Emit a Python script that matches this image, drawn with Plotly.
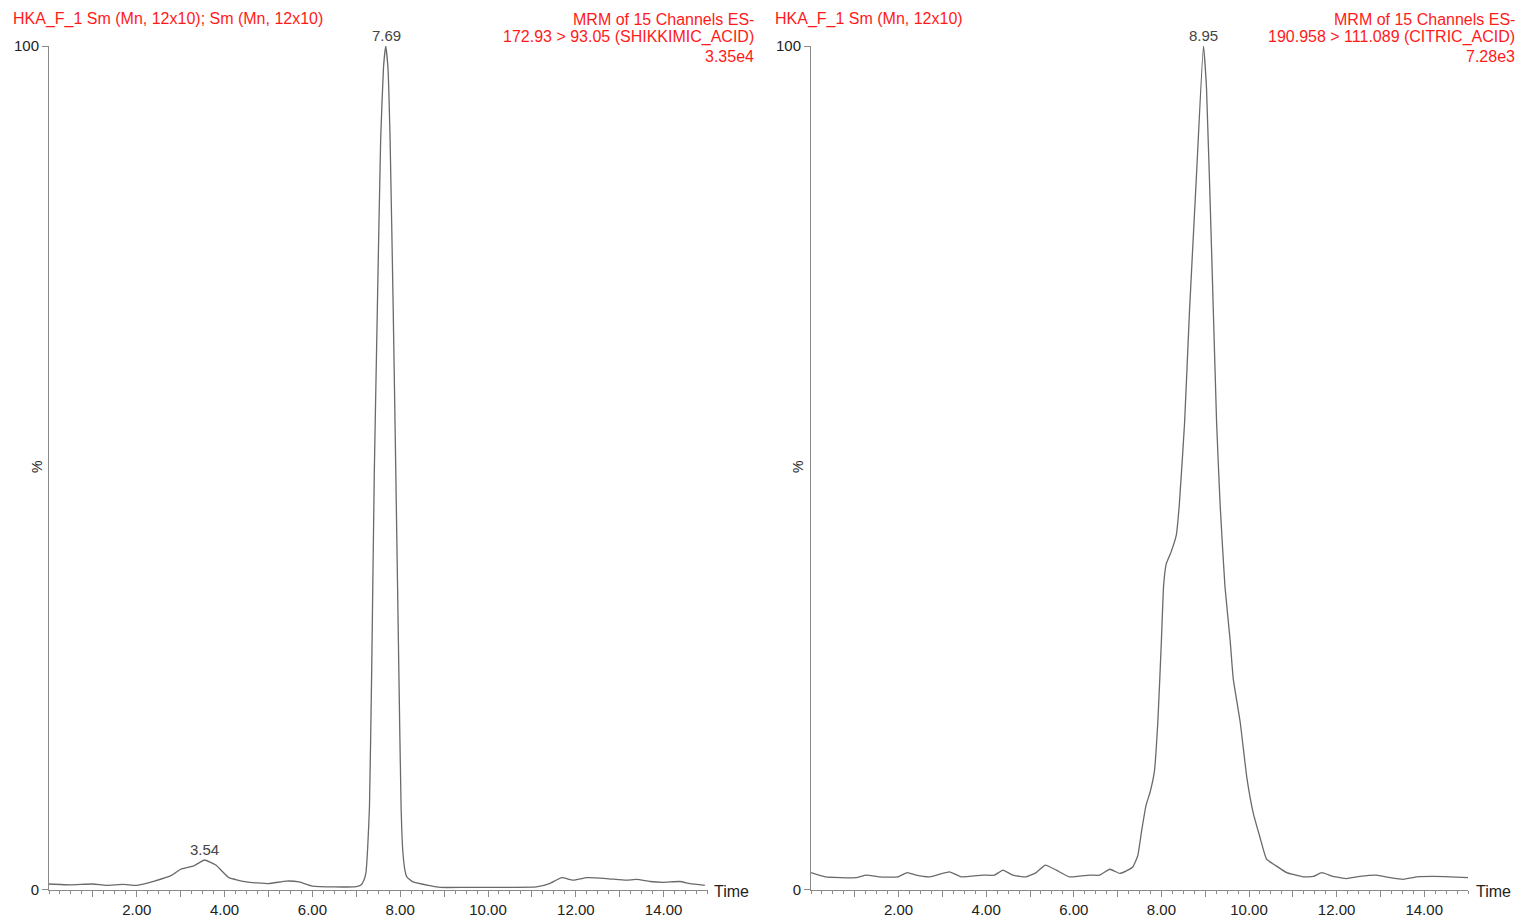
import plotly.graph_objects as go

# ---- data ----
t_shikimic = [0.0, 0.5, 1.0, 1.3, 1.7, 2.0, 2.4, 2.8, 3.0, 3.3, 3.54, 3.8, 4.1, 4.5, 5.0, 5.4, 5.7,
              6.0, 6.5, 7.0, 7.1, 7.18, 7.22, 7.26, 7.30, 7.35, 7.41, 7.48, 7.555, 7.62, 7.67, 7.72,
              7.77, 7.84, 7.90, 7.97, 8.02, 8.06, 8.11, 8.15, 8.29, 8.68, 8.91, 9.5, 10.0, 10.5,
              11.1, 11.4, 11.68, 11.94, 12.25, 12.7, 13.15, 13.39, 13.69, 13.99, 14.37, 14.6, 14.94]
pct_shikimic = [0.65, 0.55, 0.65, 0.5, 0.6, 0.5, 1.0, 1.7, 2.4, 2.8, 3.5, 2.9, 1.4, 0.9, 0.7, 1.0, 0.9,
                0.4, 0.3, 0.35, 0.5, 1.2, 2.0, 5.0, 9.8, 25.7, 49.4, 69.0, 88.9, 97.5, 100.0, 97.5,
                88.9, 69.0, 49.4, 25.7, 9.8, 4.5, 2.2, 1.5, 0.9, 0.45, 0.25, 0.25, 0.25, 0.25,
                0.3, 0.7, 1.4, 1.1, 1.4, 1.3, 1.1, 1.2, 0.95, 0.85, 0.95, 0.7, 0.5]

t_citric = [0.0, 0.33, 1.03, 1.26, 1.56, 1.98, 2.2, 2.4, 2.71, 3.16, 3.43, 3.92, 4.19, 4.38, 4.61,
            4.91, 5.14, 5.35, 5.6, 5.9, 6.36, 6.59, 6.82, 7.05, 7.2, 7.35, 7.46, 7.55, 7.65, 7.74,
            7.84, 7.92, 8.00, 8.05, 8.11, 8.22, 8.34, 8.41, 8.53, 8.64, 8.80, 8.96, 9.03, 9.15,
            9.26, 9.34, 9.45, 9.57, 9.64, 9.80, 9.95, 10.10, 10.25, 10.4, 10.62, 10.86, 11.24,
            11.47, 11.66, 11.92, 12.23, 12.53, 12.91, 13.22, 13.52, 13.83, 14.2, 14.59, 15.0]
pct_citric = [2.0, 1.5, 1.4, 1.7, 1.5, 1.5, 2.0, 1.7, 1.5, 2.1, 1.5, 1.7, 1.7, 2.3, 1.7,
              1.5, 2.0, 2.9, 2.3, 1.5, 1.7, 1.7, 2.4, 1.9, 2.2, 2.7, 4.0, 7.0, 10.0, 11.5,
              14.0, 20.0, 29.5, 36.0, 38.6, 40.0, 42.0, 45.7, 55.4, 68.4, 84.6, 100.0, 95.0, 75.0,
              55.4, 45.7, 36.0, 29.5, 25.0, 19.8, 13.3, 9.0, 6.2, 3.6, 2.8, 2.0, 1.5,
              1.55, 2.0, 1.55, 1.3, 1.55, 1.7, 1.4, 1.2, 1.5, 1.55, 1.5, 1.4]

x_tickvals = [1, 2, 3, 4, 5, 6, 7, 8, 9, 10, 11, 12, 13, 14]
x_ticktext = ["", "2.00", "", "4.00", "", "6.00", "", "8.00", "", "10.00", "", "12.00", "", "14.00"]
y_tickvals = [0, 100]
y_ticktext = ["0", "100"]

left_peaks = [(7.69, 100.0, "7.69"), (3.54, 3.5, "3.54")]
right_peaks = [(8.95, 100.0, "8.95")]

left_title = "HKA_F_1 Sm (Mn, 12x10); Sm (Mn, 12x10)"
left_info = ["MRM of 15 Channels ES-", "172.93 > 93.05 (SHIKKIMIC_ACID)", "3.35e4"]
right_title = "HKA_F_1 Sm (Mn, 12x10)"
right_info = ["MRM of 15 Channels ES-", "190.958 > 111.089 (CITRIC_ACID)", "7.28e3"]

# ---- styling ----
W, H = 1518, 918
FONT = "Liberation Sans, Arial, sans-serif"
LINE = "#6a6a6a"
AX = "#8a8a8a"
RED = "#ff1a1a"

dom_left = [49 / W, 707.5 / W]
dom_right = [811 / W, 1468 / W]
ydom = [(H - 889.5) / H, (H - 46) / H]

fig = go.Figure()
fig.add_trace(go.Scatter(x=t_shikimic, y=pct_shikimic, mode="lines", xaxis="x", yaxis="y",
                         line=dict(color=LINE, width=1.3, shape="spline", smoothing=0.4),
                         hoverinfo="skip", showlegend=False))
fig.add_trace(go.Scatter(x=t_citric, y=pct_citric, mode="lines", xaxis="x2", yaxis="y2",
                         line=dict(color=LINE, width=1.3, shape="spline", smoothing=0.4),
                         hoverinfo="skip", showlegend=False))

def xaxis(dom, anchor):
    return dict(domain=dom, anchor=anchor, range=[0, 15], showgrid=False, zeroline=False,
                showline=True, linecolor=AX, linewidth=1, automargin=False,
                tickmode="array", tickvals=x_tickvals, ticktext=x_ticktext,
                ticks="outside", ticklen=6, tickcolor=AX, tickwidth=1,
                minor=dict(dtick=0.25, tick0=0, ticks="outside", ticklen=3, tickcolor=AX, tickwidth=1),
                tickfont=dict(family=FONT, size=15, color="#222222"))

def yaxis(anchor):
    return dict(domain=ydom, anchor=anchor, range=[0, 100], showgrid=False, zeroline=False,
                showline=True, linecolor=AX, linewidth=1, automargin=False,
                tickmode="array", tickvals=y_tickvals, ticktext=y_ticktext,
                ticks="outside", ticklen=6, tickcolor=AX, tickwidth=1,
                tickfont=dict(family=FONT, size=15, color="#222222"))

fig.update_layout(
    width=W, height=H, margin=dict(l=0, r=0, t=0, b=0, pad=0), autosize=False,
    paper_bgcolor="white", plot_bgcolor="white", showlegend=False,
    xaxis=xaxis(dom_left, "y"), yaxis=yaxis("x"),
    xaxis2=xaxis(dom_right, "y2"), yaxis2=yaxis("x2"),
)

ann = []
def paper(xpx, ypx):
    return xpx / W, 1 - ypx / H

# titles
for txt, xpx in [(left_title, 11), (right_title, 773)]:
    x, y = paper(xpx, 19)
    ann.append(dict(text=txt, x=x, y=y, xref="paper", yref="paper", xanchor="left", yanchor="middle",
                    showarrow=False, font=dict(family=FONT, size=16, color=RED)))
for lines, xpx in [(left_info, 756), (right_info, 1517)]:
    for i, txt in enumerate(lines):
        x, y = paper(xpx, 19 + 18.5 * i)
        ann.append(dict(text=txt, x=x, y=y, xref="paper", yref="paper", xanchor="right",
                        yanchor="middle", showarrow=False,
                        font=dict(family=FONT, size=16, color=RED)))
# "%" labels
for xpx in [37, 798]:
    x, y = paper(xpx, 467)
    ann.append(dict(text="%", x=x, y=y, xref="paper", yref="paper", textangle=-90, showarrow=False,
                    xanchor="center", yanchor="middle",
                    font=dict(family=FONT, size=14, color="#222222")))
# "Time" labels
for xpx in [731, 1493]:
    x, y = paper(xpx, 891)
    ann.append(dict(text="Time", x=x, y=y, xref="paper", yref="paper", showarrow=False,
                    xanchor="center", yanchor="middle",
                    font=dict(family=FONT, size=16, color="#222222")))
# peak labels
for (px, py, txt) in left_peaks:
    ann.append(dict(text=txt, x=px, y=py, xref="x", yref="y", xanchor="center", yanchor="bottom",
                    yshift=0, showarrow=False, font=dict(family=FONT, size=15, color="#444444")))
for (px, py, txt) in right_peaks:
    ann.append(dict(text=txt, x=px, y=py, xref="x2", yref="y2", xanchor="center", yanchor="bottom",
                    yshift=0, showarrow=False, font=dict(family=FONT, size=15, color="#444444")))
fig.update_layout(annotations=ann)

fig.write_html("out.html", config={"displayModeBar": False},
               post_script="document.body.style.margin='0';document.body.style.overflow='hidden';")
